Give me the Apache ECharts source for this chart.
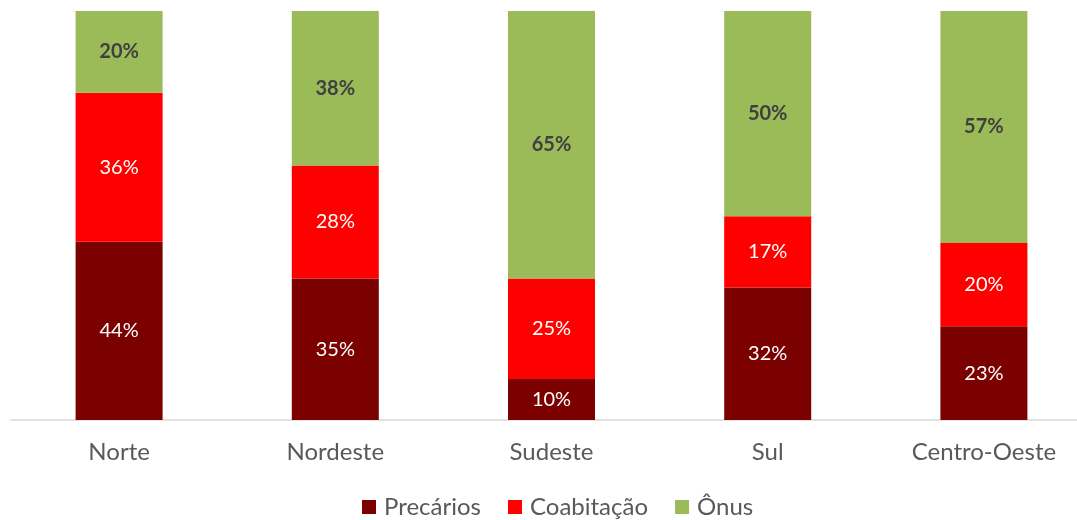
<!DOCTYPE html>
<html><head><meta charset="utf-8">
<script src="https://cdn.jsdelivr.net/npm/echarts@6/dist/echarts.min.js"></script>
<style>html,body{margin:0;padding:0;background:#fff}#c{width:1077px;height:520px}</style>
</head><body><div id="c"></div>
<script>
const categories = ['Norte', 'Nordeste', 'Sudeste', 'Sul', 'Centro-Oeste'];
const precarios = [43.6, 34.6, 10.0, 32.4, 22.9];
const coabitacao = [36.4, 27.6, 24.6, 17.4, 20.4];
const onus = [20.0, 37.8, 65.4, 50.2, 56.7];

const FONT = 'Lato, "Open Sans", sans-serif';
const chart = echarts.init(document.getElementById('c'));
const fmt = p => Math.round(p.value) + '%';
function s(name, data, color, labelColor, bold) {
  return {
    name, type: 'bar', stack: 'total', data, barWidth: 87,
    itemStyle: { color },
    label: { show: true, position: 'inside', formatter: fmt, color: labelColor,
      fontFamily: FONT, fontSize: 20, fontWeight: bold ? 'bold' : 'normal' }
  };
}
chart.setOption({
  animation: false,
  textStyle: { fontFamily: FONT },
  grid: { left: 11, width: 1081, top: 11, bottom: 100, containLabel: false, outerBoundsMode: 'none' },
  legend: { top: 490, left: 357, itemWidth: 14, itemHeight: 14, itemGap: 27,
    icon: 'rect', textStyle: { fontFamily: FONT, fontSize: 24, color: '#595959', padding: [0, 0, 0, 3] },
    data: ['Precários', 'Coabitação', 'Ônus'] },
  xAxis: { type: 'category', data: categories,
    axisLine: { lineStyle: { color: '#d9d9d9', width: 1.5 } }, axisTick: { show: false },
    axisLabel: { color: '#595959', fontSize: 24, fontFamily: FONT, margin: 20 } },
  yAxis: { type: 'value', min: 0, max: 100, show: false },
  series: [
    s('Precários', precarios, '#7b0000', '#ffffff', false),
    s('Coabitação', coabitacao, '#ff0000', '#ffffff', false),
    s('Ônus', onus, '#9bbb59', '#404040', true)
  ]
});
</script></body></html>
